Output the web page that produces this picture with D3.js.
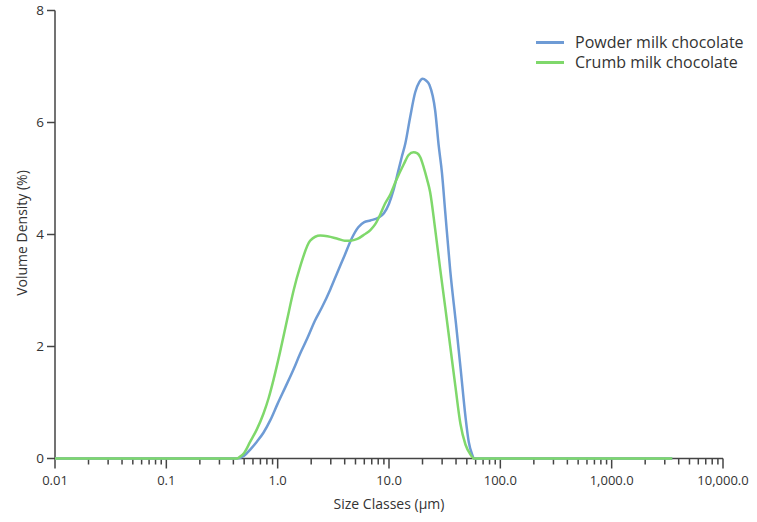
<!DOCTYPE html>
<html>
<head>
<meta charset="utf-8">
<script src="https://cdn.jsdelivr.net/npm/d3@7"></script>
<style>
  html, body { margin: 0; padding: 0; background: #fff; }
  svg { display: block; }
  text { font-family: "Open Sans", "Noto Sans", sans-serif; fill: #333; }
</style>
</head>
<body>
<svg id="chart" width="757" height="522"></svg>
<script>
// ---- Data ----
const seriesNames = ["Powder milk chocolate", "Crumb milk chocolate"];
const seriesColors = ["#6e9bd5", "#7fd86b"];

const powderSizes = [0.01, 0.43, 0.5, 0.567, 0.65, 0.745, 0.857, 1.0, 1.17, 1.38, 1.59, 1.85, 2.16, 2.5, 2.97, 3.4, 4.0, 4.6, 5.3, 6.0, 6.8, 8.0, 9.0, 10, 11, 12, 13, 14, 15.5, 17.2, 18.7, 20, 21.5, 23.1, 26, 27.9, 29.9, 32, 35.5, 40, 44, 48.6, 52, 55.6, 58, 3500];
const powderValues = [0, 0, 0.05, 0.16, 0.3, 0.46, 0.68, 0.98, 1.27, 1.58, 1.87, 2.15, 2.46, 2.7, 3.02, 3.3, 3.63, 3.92, 4.13, 4.22, 4.25, 4.3, 4.38, 4.55, 4.8, 5.1, 5.38, 5.62, 6.1, 6.54, 6.72, 6.78, 6.75, 6.67, 6.21, 5.6, 5.1, 4.4, 3.35, 2.4, 1.6, 0.75, 0.3, 0.08, 0, 0];

const crumbSizes = [0.01, 0.43, 0.45, 0.5, 0.567, 0.65, 0.745, 0.83, 0.916, 1.05, 1.21, 1.39, 1.59, 1.96, 2.41, 2.8, 3.5, 4.0, 4.5, 5.2, 6.0, 6.8, 7.5, 8.4, 9.2, 10.3, 11.5, 13.6, 15, 16.6, 18, 19.1, 20.5, 22, 23.4, 26, 28.8, 32, 35.5, 39.4, 43.8, 48.6, 54, 58, 3500];
const crumbValues = [0, 0, 0.02, 0.1, 0.3, 0.52, 0.8, 1.08, 1.4, 1.9, 2.46, 3.0, 3.42, 3.89, 3.98, 3.97, 3.92, 3.89, 3.89, 3.92, 4.0, 4.08, 4.18, 4.37, 4.55, 4.72, 4.95, 5.26, 5.42, 5.47, 5.45, 5.38, 5.2, 4.98, 4.76, 4.09, 3.39, 2.7, 2.0, 1.3, 0.62, 0.25, 0.07, 0, 0];

const yTicks = [0, 2, 4, 6, 8];
const xTicks = [0.01, 0.1, 1, 10, 100, 1000, 10000];
const xTickLabels = ["0.01", "0.1", "1.0", "10.0", "100.0", "1,000.0", "10,000.0"];

// ---- Layout ----
const svg = d3.select("#chart");
const x = d3.scaleLog().domain([0.01, 10000]).range([55, 723]);
const y = d3.scaleLinear().domain([0, 8]).range([458.5, 10.5]);
const axisColor = "#444";

// Y axis
const yAxis = svg.append("g");
yAxis.append("line")
  .attr("x1", 55).attr("x2", 55).attr("y1", y(8)).attr("y2", y(0))
  .attr("stroke", axisColor).attr("stroke-width", 1.5);
yAxis.selectAll(".yt").data(yTicks).enter().append("line")
  .attr("x1", 47).attr("x2", 55)
  .attr("y1", d => y(d)).attr("y2", d => y(d))
  .attr("stroke", axisColor).attr("stroke-width", 1.5);
yAxis.selectAll(".yl").data(yTicks).enter().append("text")
  .attr("x", 44).attr("y", d => y(d)).attr("dy", "0.35em")
  .attr("text-anchor", "end").attr("font-size", 13.5)
  .text(d => d);

// X axis
const xAxis = svg.append("g");
xAxis.append("line")
  .attr("x1", 55).attr("x2", 723).attr("y1", y(0)).attr("y2", y(0))
  .attr("stroke", axisColor).attr("stroke-width", 1.5);
const minor = [];
for (let e = -2; e < 4; e++) {
  for (let m = 2; m <= 9; m++) minor.push(m * Math.pow(10, e));
}
xAxis.selectAll(".xm").data(minor).enter().append("line")
  .attr("x1", d => x(d)).attr("x2", d => x(d))
  .attr("y1", y(0)).attr("y2", y(0) + 6)
  .attr("stroke", axisColor).attr("stroke-width", 1.5);
xAxis.selectAll(".xt").data(xTicks).enter().append("line")
  .attr("x1", d => x(d)).attr("x2", d => x(d))
  .attr("y1", y(0)).attr("y2", y(0) + 10)
  .attr("stroke", axisColor).attr("stroke-width", 1.5);
xAxis.selectAll(".xl").data(xTicks).enter().append("text")
  .attr("x", d => x(d)).attr("y", 484.5)
  .attr("text-anchor", "middle").attr("font-size", 13)
  .text((d, i) => xTickLabels[i]);

// Axis titles
svg.append("text")
  .attr("x", 389).attr("y", 509)
  .attr("text-anchor", "middle").attr("font-size", 14)
  .text("Size Classes (µm)");
svg.append("text")
  .attr("transform", "translate(27,233) rotate(-90)")
  .attr("text-anchor", "middle").attr("font-size", 14)
  .text("Volume Density (%)");

// Lines
const line = d3.line()
  .x(d => x(d[0])).y(d => y(d[1]))
  .curve(d3.curveMonotoneX);
const series = [
  powderSizes.map((s, i) => [s, powderValues[i]]),
  crumbSizes.map((s, i) => [s, crumbValues[i]])
];
svg.selectAll(".series").data(series).enter().append("path")
  .attr("d", line)
  .attr("fill", "none")
  .attr("stroke", (d, i) => seriesColors[i])
  .attr("stroke-width", 2.5)
  .attr("stroke-linejoin", "round");

// Legend
const legend = svg.append("g");
seriesNames.forEach((name, i) => {
  const ly = 42.5 + i * 20;
  legend.append("line")
    .attr("x1", 536).attr("x2", 564).attr("y1", ly).attr("y2", ly)
    .attr("stroke", seriesColors[i]).attr("stroke-width", 3);
  legend.append("text")
    .attr("x", 575).attr("y", ly).attr("dy", "0.35em")
    .attr("font-size", 16)
    .text(name);
});
</script>
</body>
</html>
